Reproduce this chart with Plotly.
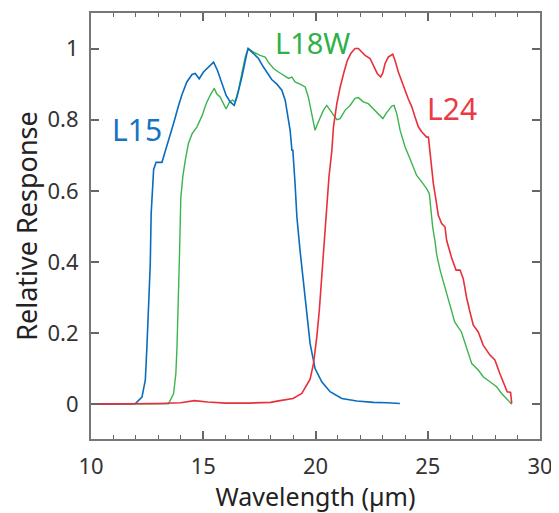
import plotly.graph_objects as go

# L15 filter response
l15_x = [10.0, 11.0, 11.97, 12.27, 12.42, 12.49, 12.56, 12.64, 12.68, 12.76, 12.79, 12.9, 13.16, 13.3, 13.5,
         13.68, 13.9, 14.05, 14.27, 14.5, 14.64, 14.82, 15.01, 15.23, 15.46, 15.63, 15.75, 15.9,
         16.02, 16.2, 16.38, 16.5, 16.72, 16.94, 17.0, 17.24, 17.46, 17.68, 17.9, 18.05, 18.28,
         18.5, 18.65, 18.75, 18.87, 18.95, 18.99, 19.09, 19.17, 19.31, 19.46, 19.61, 19.76, 19.98,
         20.28, 20.65, 21.17, 21.84, 22.58, 23.2, 23.76]
l15_y = [0.0, 0.0, 0.001, 0.02, 0.068, 0.16, 0.255, 0.395, 0.536, 0.63, 0.66, 0.68, 0.68, 0.71, 0.75,
         0.79, 0.84, 0.87, 0.906, 0.927, 0.93, 0.915, 0.934, 0.948, 0.962, 0.939, 0.915, 0.89,
         0.868, 0.85, 0.84, 0.864, 0.92, 0.986, 1.0, 0.986, 0.972, 0.948, 0.925, 0.913, 0.90,
         0.883, 0.855, 0.817, 0.77, 0.714, 0.714, 0.62, 0.527, 0.433, 0.34, 0.245, 0.17, 0.10,
         0.063, 0.035, 0.016, 0.009, 0.005, 0.004, 0.002]

# L18W filter response
l18w_x = [10.0, 12.0, 13.45, 13.68, 13.78, 13.83, 13.9, 13.95, 14.0, 14.05, 14.09, 14.2, 14.34, 14.5,
          14.72, 14.94, 15.13, 15.31, 15.49, 15.6, 15.75, 15.9, 16.02, 16.17, 16.3, 16.42, 16.57,
          16.72, 16.87, 17.0, 17.24, 17.53, 17.76, 17.9, 18.13, 18.35, 18.57, 18.8, 18.95, 19.09,
          19.31, 19.54, 19.68, 19.84, 19.98, 20.13, 20.35, 20.5, 20.72, 20.95, 21.1, 21.32, 21.54,
          21.76, 21.91, 22.13, 22.35, 22.58, 22.8, 23.0, 23.17, 23.4, 23.5, 23.62, 23.77, 23.99,
          24.21, 24.36, 24.5, 24.73, 24.95, 25.07, 25.13, 25.22, 25.32, 25.4, 25.55, 25.77, 25.99,
          26.2, 26.5, 26.73, 26.96, 27.25, 27.47, 27.77, 28.07, 28.29, 28.54, 28.74]
l18w_y = [0.0, 0.0, 0.001, 0.03, 0.086, 0.16, 0.30, 0.44, 0.58, 0.63, 0.64, 0.686, 0.733, 0.76,
          0.78, 0.81, 0.845, 0.869, 0.888, 0.873, 0.864, 0.845, 0.83, 0.85, 0.855, 0.85, 0.883,
          0.93, 0.976, 1.0, 0.99, 0.981, 0.976, 0.962, 0.944, 0.934, 0.925, 0.916, 0.92, 0.906,
          0.90, 0.892, 0.864, 0.817, 0.77, 0.794, 0.826, 0.84, 0.82, 0.80, 0.803, 0.827, 0.84,
          0.86, 0.862, 0.85, 0.845, 0.83, 0.817, 0.803, 0.82, 0.838, 0.84, 0.817, 0.77, 0.723,
          0.69, 0.667, 0.644, 0.625, 0.606, 0.592, 0.545, 0.498, 0.46, 0.42, 0.377, 0.325, 0.274,
          0.231, 0.203, 0.157, 0.114, 0.096, 0.077, 0.063, 0.049, 0.03, 0.013, 0.0]

# L24 filter response
l24_x = [10.0, 11.0, 12.0, 13.0, 14.0, 14.6, 15.2, 16.0, 17.0, 18.0, 18.42, 19.0, 19.39, 19.76,
         19.91, 20.06, 20.17, 20.28, 20.38, 20.5, 20.6, 20.73, 20.8, 20.95, 21.1, 21.27, 21.42,
         21.57, 21.76, 21.91, 22.06, 22.21, 22.43, 22.58, 22.75, 22.9, 22.99, 23.1, 23.24, 23.44,
         23.54, 23.69, 23.84, 23.99, 24.13, 24.29, 24.43, 24.58, 24.73, 24.8, 24.95, 25.03, 25.13,
         25.25, 25.37, 25.47, 25.62, 25.77, 25.84, 25.92, 26.07, 26.26, 26.44, 26.58, 26.73, 26.88,
         27.03, 27.25, 27.47, 27.77, 27.99, 28.21, 28.44, 28.54, 28.69, 28.74]
l24_y = [0.0, 0.0, 0.001, 0.002, 0.004, 0.01, 0.006, 0.003, 0.003, 0.005, 0.01, 0.016, 0.03, 0.07,
         0.114, 0.19, 0.264, 0.358, 0.452, 0.545, 0.639, 0.714, 0.78, 0.845, 0.892, 0.934, 0.967,
         0.986, 1.0, 1.0, 0.99, 0.981, 0.972, 0.953, 0.93, 0.92, 0.93, 0.958, 0.976, 0.984,
         0.967, 0.934, 0.906, 0.883, 0.859, 0.836, 0.808, 0.78, 0.766, 0.761, 0.751, 0.751, 0.695,
         0.62, 0.573, 0.531, 0.508, 0.498, 0.461, 0.442, 0.41, 0.377, 0.377, 0.353, 0.30, 0.259,
         0.222, 0.203, 0.166, 0.138, 0.124, 0.086, 0.049, 0.035, 0.033, 0.002]

x_ticks = [10, 15, 20, 25, 30]
y_ticks = [0, 0.2, 0.4, 0.6, 0.8, 1]
y_tick_text = ["0", "0.2", "0.4", "0.6", "0.8", "1"]

BLUE = "#0a6cbf"
GREEN = "#3cb44e"
RED = "#e8303c"
FONT = "Noto Sans"

fig = go.Figure()
fig.add_trace(go.Scatter(x=l18w_x, y=l18w_y, mode="lines", line=dict(color=GREEN, width=1.4), showlegend=False))
fig.add_trace(go.Scatter(x=l15_x, y=l15_y, mode="lines", line=dict(color=BLUE, width=1.6), showlegend=False))
fig.add_trace(go.Scatter(x=l24_x, y=l24_y, mode="lines", line=dict(color=RED, width=1.6), showlegend=False))

fig.add_annotation(x=12.06, y=0.773, text="L15", showarrow=False, font=dict(family=FONT, size=30, color="#1672c4"))
fig.add_annotation(x=19.86, y=1.016, text="L18W", showarrow=False, font=dict(family=FONT, size=29, color="#2fb14a"))
fig.add_annotation(x=26.08, y=0.832, text="L24", showarrow=False, font=dict(family=FONT, size=30, color="#ec3a45"))

axis_common = dict(
    showgrid=False, zeroline=False, showline=True, linecolor="#777777", linewidth=2,
    mirror="allticks", ticks="inside", tickcolor="#666666", tickwidth=1.5, ticklen=8,
    tickfont=dict(family=FONT, size=22, color="#333333"), automargin=False,
)

fig.update_xaxes(
    range=[10, 30], tickvals=x_ticks, ticktext=[str(v) for v in x_ticks],
    title=dict(text="Wavelength (µm)", font=dict(family=FONT, size=25, color="#222222"), standoff=7),
    minor=dict(dtick=1, ticks="inside", ticklen=4, tickcolor="#666666", tickwidth=1.2),
    ticklabelstandoff=7,
    **axis_common,
)
fig.update_yaxes(
    range=[-0.098, 1.1], tickvals=y_ticks, ticktext=y_tick_text,
    title=dict(text="Relative Response", font=dict(family=FONT, size=27, color="#222222"), standoff=2),
    ticklabelstandoff=6,
    **axis_common,
)

# page body has an 8px margin, so the figure is sized to fit the 559x513 window
fig.update_layout(
    width=551, height=505,
    margin=dict(l=83, r=19, t=5, b=74),
    plot_bgcolor="white", paper_bgcolor="white",
)

fig.write_html("out.html")
